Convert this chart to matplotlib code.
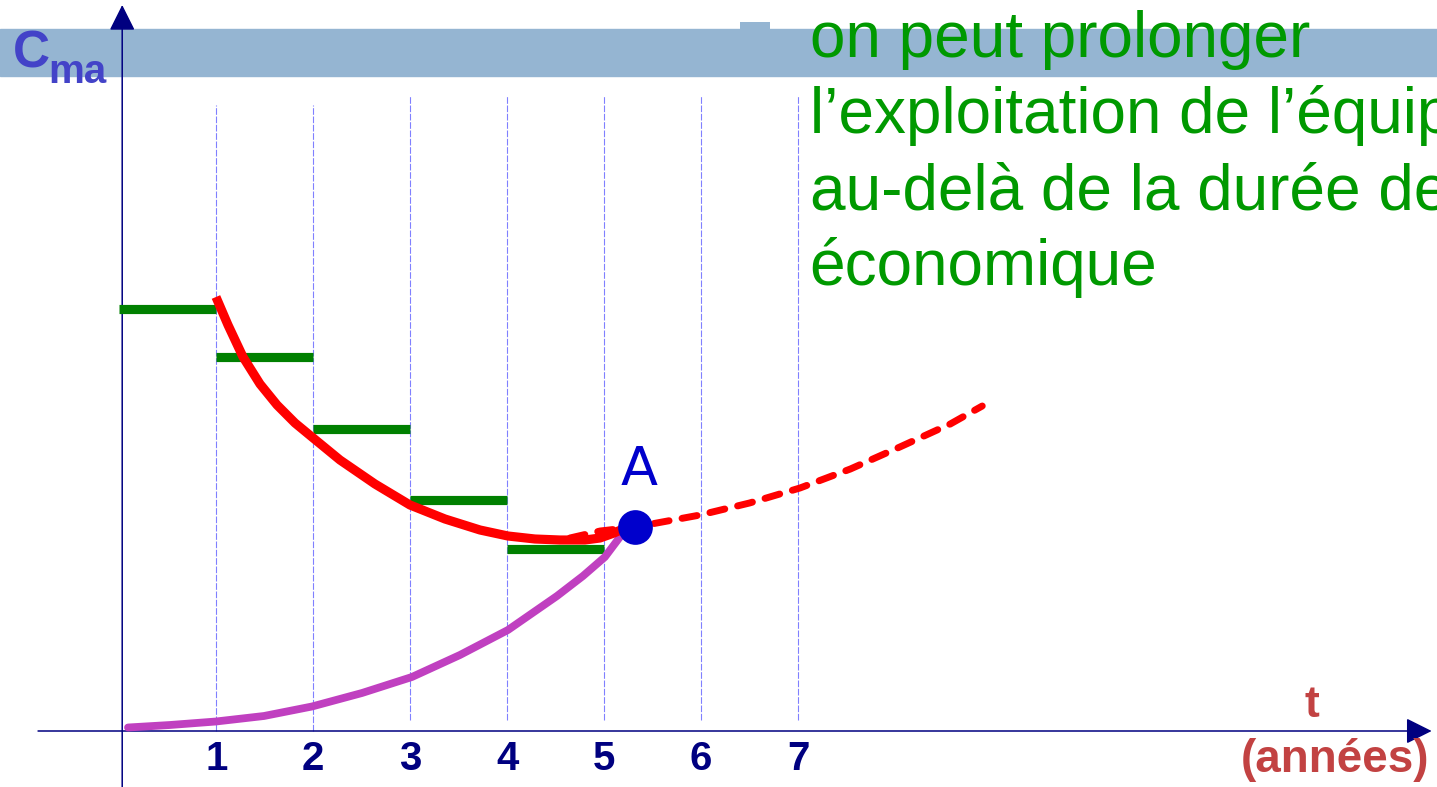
import matplotlib
matplotlib.use("Agg")
import matplotlib.pyplot as plt
from matplotlib.patches import Rectangle

# --- data (x in years, y in cost units) ---
years = [1, 2, 3, 4, 5, 6, 7]
tick_labels = ["1", "2", "3", "4", "5", "6", "7"]
line_top = [12.52, 12.52, 12.72, 12.72, 12.72, 12.72, 12.72]
line_bottom = [0.0, 0.0, 0.22, 0.22, 0.22, 0.22, 0.22]

step_start = [0, 1, 2, 3, 4]
step_end = [1, 2, 3, 4, 5]
step_level = [8.44, 7.49, 6.04, 4.62, 3.64]

cma_x = [0.997, 1.121, 1.276, 1.451, 1.627, 1.812, 1.987, 2.276, 2.637, 2.998,
         3.359, 3.720, 4.008, 4.287, 4.545, 4.803, 4.958, 5.102, 5.216, 5.32]
cma_y = [8.68, 8.12, 7.48, 6.94, 6.52, 6.16, 5.88, 5.42, 4.94, 4.52,
         4.24, 4.02, 3.90, 3.84, 3.82, 3.82, 3.86, 3.96, 4.06, 4.08]

ext_x = [4.648, 4.96, 5.32, 5.99, 6.50, 7.02, 7.54, 8.05, 8.57, 8.90]
ext_y = [3.86, 4.00, 4.08, 4.32, 4.56, 4.86, 5.24, 5.68, 6.14, 6.50]

cm_x = [0.090, 0.523, 0.997, 1.492, 1.987, 2.503, 3.018, 3.513, 4.008, 4.514,
        4.782, 5.008, 5.163, 5.318]
cm_y = [0.07, 0.12, 0.19, 0.30, 0.49, 0.76, 1.08, 1.52, 2.02, 2.70,
        3.10, 3.48, 3.88, 4.08]

point_a = (5.32, 4.08)

NAVY = "#000080"
GREEN = "#008000"
TXT_GREEN = "#009900"
RED = "#ff0000"
MAGENTA = "#c040c0"
BAND = "#95b5d2"
CMA_COL = "#4343c8"
T_COL = "#c24242"

fig = plt.figure(figsize=(14.37, 7.87), dpi=100)
ax = fig.add_axes([0, 0, 1, 1])
ax.set_xlim(-1.2304, 13.590)
ax.set_ylim(-1.12, 14.62)
ax.axis("off")

# header band
ax.axhspan(13.10, 14.04, color=BAND, zorder=0)
ax.add_patch(Rectangle((6.40, 14.0), 0.31, 0.18, color=BAND, lw=0, zorder=0))

# year grid lines
for x, t, b in zip(years, line_top, line_bottom):
    ax.plot([x, x], [b, t], color="#8080ff", lw=0.8, ls=(0, (6, 1.5)), zorder=1)

# axes with arrows
arrow = dict(arrowstyle="-|>,head_length=0.8,head_width=0.4", mutation_scale=20,
             color=NAVY, lw=1.1, shrinkA=0, shrinkB=0)
ax.annotate("", xy=(0.03, 14.52), xytext=(0.03, -1.12), arrowprops=arrow, zorder=2)
ax.annotate("", xy=(13.535, 0), xytext=(-0.838, 0), arrowprops=arrow, zorder=2)

for x, lab in zip(years, tick_labels):
    ax.text(x, -0.78, lab, ha="center", va="baseline", fontsize=29, fontweight="bold",
            color=NAVY, family="Liberation Sans")

# curves
for x0, x1, y in zip(step_start, step_end, step_level):
    ax.plot([x0, x1], [y, y], color=GREEN, lw=6.6, solid_capstyle="butt", zorder=3)
ax.plot(cm_x, cm_y, color=MAGENTA, lw=5.6, solid_capstyle="round", solid_joinstyle="round", zorder=3)
ax.plot(cma_x, cma_y, color=RED, lw=6.6, solid_capstyle="butt", solid_joinstyle="round", zorder=4)
ax.plot(ext_x, ext_y, color=RED, lw=5.0, ls=(0, (2.2, 1.9)), dash_capstyle="round", zorder=5)
ax.plot(*point_a, "o", color="#0000cc", ms=25, mec="none", zorder=6)
ax.text(5.36, 4.92, "A", ha="center", va="baseline", fontsize=39, color="#0000cc",
        family="DejaVu Sans", zorder=6)

# axis titles
ax.text(-1.10, 13.26, "C", ha="left", va="baseline", fontsize=37, fontweight="bold",
        color=CMA_COL, family="Liberation Sans", zorder=3)
ax.text(-0.735, 12.96, "ma", ha="left", va="baseline", fontsize=29, fontweight="bold",
        color=CMA_COL, family="Liberation Sans", zorder=3)
ax.text(12.30, 0.28, "t", ha="center", va="baseline", fontsize=32, fontweight="bold",
        color=T_COL, family="Liberation Sans")
ax.text(12.54, -0.82, "(années)", ha="center", va="baseline", fontsize=33, fontweight="bold",
        color=T_COL, family="Liberation Sans")

# comment text (cut at the right edge, as in the slide)
lines = ["on peut prolonger", "l’exploitation de l’équipement",
         "au-delà de la durée de vie", "économique"]
for i, s in enumerate(lines):
    ax.text(7.12, (731 - 57 - 76 * i) / 50, s, ha="left", va="baseline", fontsize=46,
            color=TXT_GREEN, family="Liberation Sans", clip_on=True, zorder=3)

fig.savefig("out.png", dpi=100)
